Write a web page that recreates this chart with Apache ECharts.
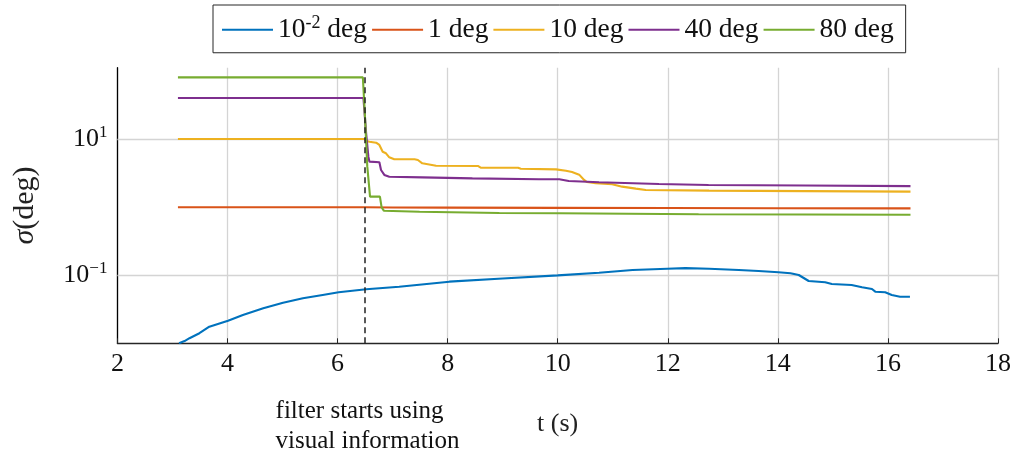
<!DOCTYPE html>
<html>
<head>
<meta charset="utf-8">
<script src="https://cdn.jsdelivr.net/npm/echarts@6/dist/echarts.min.js"></script>
<style>
html,body{margin:0;padding:0;background:#fff;}
#chart{width:1014px;height:455px;}
</style>
</head>
<body>
<div id="chart"></div>
<script>
// ---------------- data ----------------
const seriesNames = ['10^-2 deg', '1 deg', '10 deg', '40 deg', '80 deg'];
const seriesColors = ['#0072BD', '#D95319', '#EDB120', '#7E2F8E', '#77AC30'];

// [t (s), sigma (deg)]
const sigma0p01 = [
  [3.12,0.0101],[3.22,0.0109],[3.31,0.0120],[3.49,0.0142],[3.67,0.0177],[4.01,0.0217],
  [4.28,0.0262],[4.65,0.0329],[5.01,0.0398],[5.37,0.0461],[5.73,0.0516],[6.02,0.0565],
  [6.52,0.0625],[7.12,0.0682],[8.03,0.0809],[9.0,0.090],[10.0,0.100],[10.75,0.1096],
  [11.36,0.120],[11.99,0.1254],[12.32,0.128],[12.75,0.1254],[13.29,0.120],[13.65,0.116],
  [14.01,0.111],[14.23,0.1073],[14.38,0.1014],[14.56,0.0828],[14.86,0.0792],[14.98,0.0748],
  [15.34,0.0723],[15.53,0.0669],[15.71,0.0631],[15.77,0.0577],[15.95,0.0565],[16.07,0.0516],
  [16.22,0.0487],[16.40,0.0487]
];
const sigma1 = [
  [3.10,1.0],[6.5,1.0],[7.0,0.99],[8.0,0.985],[10.0,0.978],[12.0,0.972],[14.0,0.967],[16.41,0.962]
];
const sigma10 = [
  [3.10,10],[6.49,10],[6.53,9.3],[6.58,9.12],[6.70,8.83],[6.76,8.17],[6.82,6.51],[6.88,6.17],
  [6.94,5.39],[7.03,5.04],[7.40,5.04],[7.46,4.92],[7.54,4.40],[7.79,4.06],[8.55,4.02],[8.60,3.79],
  [9.28,3.79],[9.33,3.67],[9.97,3.59],[10.15,3.43],[10.26,3.28],[10.39,3.0],[10.48,2.51],
  [10.53,2.34],[10.69,2.24],[10.99,2.17],[11.17,2.0],[11.42,1.87],[11.60,1.79],[12.75,1.75],
  [14.5,1.72],[16.41,1.69]
];
const sigma40 = [
  [3.10,40],[6.47,40],[6.52,12],[6.56,5.5],[6.58,4.65],[6.76,4.55],[6.79,3.51],[6.85,2.97],
  [6.94,2.80],[7.54,2.74],[8.45,2.65],[9.66,2.57],[10.03,2.57],[10.2,2.42],[10.75,2.32],
  [11.84,2.19],[12.74,2.12],[14.5,2.08],[16.41,2.04]
];
const sigma80 = [
  [3.10,80],[6.46,80],[6.50,20],[6.54,4],[6.59,1.43],[6.77,1.43],[6.80,1.0],[6.84,0.889],
  [7.49,0.859],[8.94,0.822],[10.03,0.814],[12.56,0.787],[16.41,0.776]
];
const seriesData = [sigma0p01, sigma1, sigma10, sigma40, sigma80];

const xMin = 2, xMax = 18, xStep = 2;
const yMin = 0.0101, yMax = 111;
const yGridValues = [10, 0.1];
const visionStartTime = 6.5;
const annotationLines = ['filter starts using', 'visual information'];
const xAxisTitle = 't (s)';

// ---------------- chart ----------------
const FONT = 'Liberation Serif';
const chart = echarts.init(document.getElementById('chart'), null, {renderer: 'canvas'});

function makeRich(size, supSize) {
  return {
    n: {fontFamily: FONT, fontSize: size, color: '#111', lineHeight: size + 4},
    s: {fontFamily: FONT, fontSize: supSize, color: '#111', lineHeight: supSize, verticalAlign: 'top'}
  };
}

function yLabel(v) {
  const e = Math.log10(v);
  if (Math.abs(e - 1) < 0.01) return '{n|10}{s|1}';
  if (Math.abs(e + 1) < 0.01) return '{n|10}{s|\u22121}';
  return '';
}

const series = seriesNames.map((name, i) => ({
  name: name,
  type: 'line',
  data: seriesData[i],
  symbol: 'none',
  showSymbol: false,
  lineStyle: {width: 2.1, color: seriesColors[i]},
  itemStyle: {color: seriesColors[i]},
  z: 3
}));

series[0].markLine = {
  silent: true, symbol: 'none', z: 1, animation: false,
  label: {show: false},
  lineStyle: {color: '#d4d4d4', width: 1.3, type: 'solid'},
  data: yGridValues.map(v => ({yAxis: v}))
};
series[4].markLine = {
  silent: true, symbol: 'none', animation: false,
  lineStyle: {color: '#222', width: 1.5, type: [6, 4]},
  label: {
    show: true, position: 'start', distance: 53,
    formatter: annotationLines.map(t => '{a|' + t + '}').join('\n'),
    rich: {a: {fontFamily: FONT, fontSize: 25, lineHeight: 30, color: '#111', width: 188, align: 'left', padding: [0, 0, 0, 9]}}
  },
  data: [{xAxis: visionStartTime}]
};

chart.setOption({
  animation: false,
  backgroundColor: '#fff',
  grid: {left: 117.4, right: 14.2, top: 67.7, bottom: 111.7, containLabel: false},
  legend: {
    left: 213, top: 5,
    padding: [9, 12, 9, 9],
    icon: 'rect',
    itemGap: 5, itemWidth: 51, itemHeight: 2.2,
    borderColor: '#262626', borderWidth: 1, borderRadius: 0,
    backgroundColor: '#fff',
    textStyle: {fontFamily: FONT, fontSize: 27.5, color: '#111', rich: makeRich(27.5, 18)},
    formatter: function (name) {
      if (name.indexOf('10^') === 0) {
        const rest = name.slice(3);
        const sp = rest.indexOf(' ');
        return '{n|10}{s|' + rest.slice(0, sp) + '}{n|' + rest.slice(sp) + '}';
      }
      return '{n|' + name + '}';
    },
    data: seriesNames
  },
  xAxis: {
    type: 'value', min: xMin, max: xMax, interval: xStep,
    axisLine: {show: true, lineStyle: {color: '#262626', width: 1.3}},
    axisTick: {show: true, inside: true, length: 5, lineStyle: {color: '#262626'}},
    axisLabel: {fontFamily: FONT, fontSize: 26, color: '#111', margin: 8},
    splitLine: {show: true, lineStyle: {color: '#d4d4d4', width: 1.3}},
    name: xAxisTitle, nameLocation: 'middle', nameGap: 68,
    nameTextStyle: {fontFamily: FONT, fontSize: 26, color: '#222'}
  },
  yAxis: {
    type: 'log', logBase: 10, min: yMin, max: yMax,
    axisLine: {show: true, lineStyle: {color: '#000', width: 1.3}},
    axisTick: {show: false},
    splitLine: {show: false},
    axisLabel: {formatter: yLabel, margin: 10, rich: makeRich(26, 17)},
    name: '{i|\u03c3}{n|(deg)}', nameLocation: 'middle', nameRotate: 90, nameGap: 77,
    nameTextStyle: {
      rich: {
        i: {fontFamily: FONT, fontSize: 30, fontStyle: 'italic', color: '#222'},
        n: {fontFamily: FONT, fontSize: 30, color: '#222'}
      }
    }
  },
  series: series
});
</script>
</body>
</html>
